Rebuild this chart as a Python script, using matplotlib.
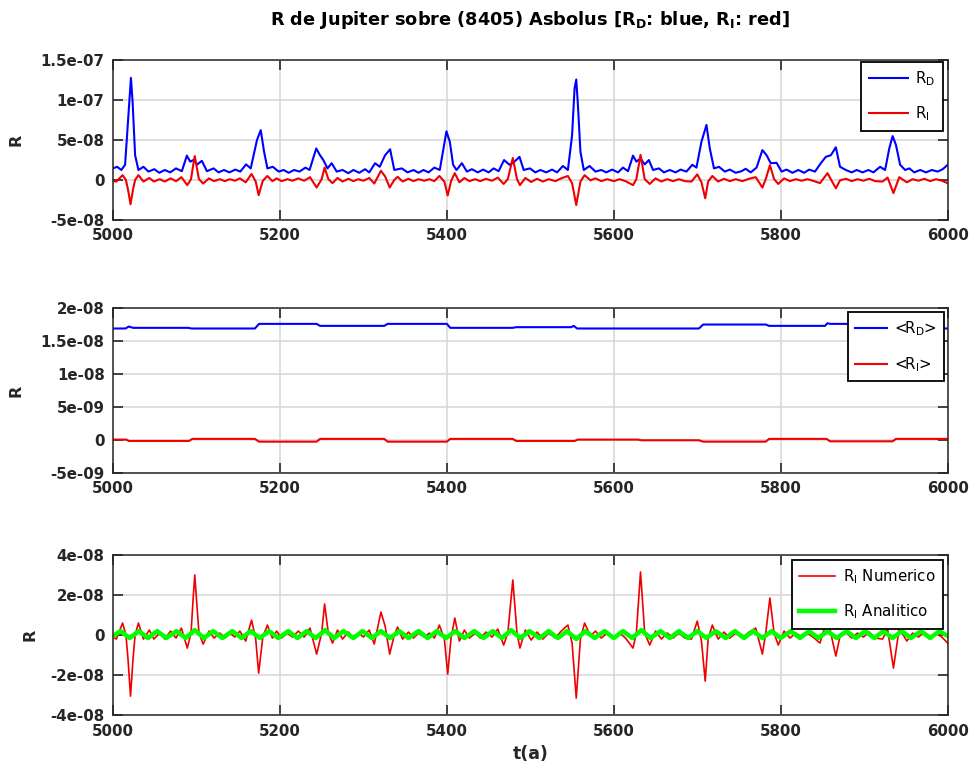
import matplotlib
matplotlib.use("Agg")
import matplotlib.pyplot as plt
import numpy as np

plt.rcParams['font.family'] = ['DejaVu Sans']
plt.rcParams['mathtext.default'] = 'regular'

# ---------------- data (values in units noted) ----------------
# R_D (top panel), units 1e-8
rd_t = [5000, 5005, 5010, 5014.5, 5018.5, 5021.5, 5023.5, 5026.5, 5030.5, 5036.5, 5042.5, 5049.5,
        5055.5, 5062, 5068.5, 5075.5, 5082.5, 5088.5, 5092.5, 5096.5, 5101, 5106.5, 5112.5, 5120.5,
        5126.5, 5133, 5139.5, 5146.5, 5152.5, 5159.5, 5165, 5172.5, 5177, 5181, 5185, 5191.5,
        5198.5, 5204.5, 5210.5, 5217, 5223.5, 5230.5, 5235.5, 5243.5, 5248, 5252, 5257, 5262,
        5268, 5275, 5282, 5288, 5295, 5302, 5307, 5314, 5319.5, 5326, 5332, 5337, 5346, 5353,
        5360, 5366, 5372, 5378, 5385, 5391.5, 5396, 5399.5, 5403.5, 5407.5, 5411.5, 5418, 5424,
        5430, 5437, 5443.5, 5450, 5456, 5462, 5468.5, 5475, 5481, 5487, 5492, 5499.5, 5506,
        5512, 5519, 5526, 5532, 5539, 5545, 5550, 5553, 5555, 5557, 5560, 5564, 5571, 5578,
        5585, 5591, 5598, 5605, 5611, 5617, 5623, 5627, 5632, 5637, 5642, 5647, 5654, 5660,
        5667, 5674, 5680, 5687, 5694, 5699, 5705, 5711, 5715, 5720, 5726, 5733, 5739, 5746,
        5753, 5758, 5764, 5771, 5778, 5783, 5788, 5795, 5801, 5807, 5814, 5821, 5828, 5834,
        5841, 5848, 5854, 5860, 5866, 5871, 5878, 5885, 5891, 5898, 5905, 5911, 5919, 5925,
        5930, 5934, 5938, 5943, 5949, 5954, 5960, 5967, 5974, 5981, 5988, 5994, 6000]
rd_v = [1.45, 1.65, 1.25, 1.9, 8.1, 12.8, 9.8, 3.1, 1.25, 1.65, 1.05, 1.35,
        0.9, 1.25, 0.95, 1.45, 1.1, 3.05, 2.3, 2.5, 1.95, 2.4, 1.1, 1.45,
        0.95, 1.25, 0.95, 1.3, 1.05, 1.95, 1.45, 5.0, 6.25, 3.55, 1.45, 1.65,
        1.05, 1.25, 0.9, 1.25, 1.05, 1.55, 1.25, 3.95, 3.1, 2.5, 1.45, 2.1,
        1.05, 1.25, 0.85, 1.25, 0.9, 1.35, 0.95, 2.1, 1.65, 3.1, 3.85, 1.25, 1.45, 0.95,
        1.25, 0.9, 1.25, 0.95, 1.55, 1.25, 3.95, 6.1, 4.8, 1.9, 1.25, 2.1, 1.05,
        1.35, 0.95, 1.3, 0.95, 1.45, 1.1, 2.5, 1.9, 2.3, 2.9, 1.25, 1.45, 0.95,
        1.25, 0.95, 1.3, 0.95, 1.75, 1.25, 5.6, 11.5, 12.6, 9.4, 3.55, 1.25, 1.75, 1.05,
        1.25, 0.95, 1.3, 0.95, 1.55, 1.1, 3.05, 2.3, 2.7, 1.95, 2.5, 1.25, 1.45, 0.95,
        1.25, 0.95, 1.3, 1.05, 1.9, 1.55, 4.8, 6.9, 3.95, 1.45, 1.65, 1.05, 1.3, 0.9,
        1.1, 1.4, 0.95, 1.55, 3.75, 3.1, 2.1, 2.15, 1.05, 1.3, 0.9, 1.25, 0.9, 1.3,
        1.05, 2.1, 2.9, 3.1, 4.1, 1.65, 1.25, 0.95, 1.25, 0.95, 1.25, 0.95, 1.65, 1.25,
        3.95, 5.5, 4.4, 1.9, 1.25, 1.45, 0.95, 1.25, 0.95, 1.25, 1.05, 1.35, 1.9]

# R_I numerical (top and bottom panels), units 1e-8
ri_t = [5000, 5004, 5011.5, 5015.5, 5018, 5021, 5024, 5026.5, 5030.5, 5036.5, 5043.5, 5049,
        5056, 5062, 5069, 5075.5, 5082, 5089, 5093.5, 5096, 5098, 5100, 5103, 5108, 5115,
        5121, 5128, 5134, 5140, 5146, 5152, 5159, 5166, 5171, 5174.5, 5179.5, 5185, 5191,
        5196, 5202, 5209, 5215, 5222, 5229, 5236, 5244, 5250, 5253.5, 5258, 5263, 5269,
        5275, 5282, 5288, 5294, 5300, 5307, 5313, 5321, 5326, 5331.5, 5337, 5341, 5347,
        5354, 5360, 5366, 5373, 5379, 5385, 5391, 5397, 5401, 5405, 5409.5, 5415, 5421,
        5427, 5434, 5440, 5447, 5454, 5461, 5468, 5473, 5479, 5484, 5487.5, 5494, 5501,
        5508, 5515, 5522, 5530, 5537, 5545, 5550, 5555, 5560, 5565, 5572, 5578, 5585,
        5592, 5600, 5607, 5614, 5623, 5627, 5632, 5637, 5643, 5650, 5657, 5664, 5671,
        5678, 5685, 5693, 5700, 5705, 5709.5, 5713, 5718, 5725, 5732, 5739, 5746, 5754,
        5762, 5770, 5778, 5782, 5787, 5792, 5797, 5804, 5811, 5818, 5825, 5832, 5840,
        5847, 5856, 5861, 5866, 5871, 5878, 5885, 5892, 5899, 5906, 5913, 5922, 5928,
        5935, 5942, 5951, 5958, 5965, 5972, 5979, 5986, 5993, 6000]
ri_v = [-0.1, -0.2, 0.6, 0.0, -1.2, -3.05, -1.2, 0.0, 0.6, -0.2, 0.25, -0.2,
        0.1, -0.2, 0.2, -0.15, 0.35, -0.65, 0.1, 1.8, 3.0, 1.8, 0.1, -0.45, 0.2,
        -0.15, 0.1, -0.15, 0.1, -0.1, 0.2, -0.3, 0.75, -0.2, -1.9, -0.1, 0.5, -0.15,
        0.2, -0.15, 0.1, -0.1, 0.2, -0.1, 0.35, -0.95, 0.1, 1.55, 0.1, -0.4, 0.25,
        -0.2, 0.15, -0.15, 0.1, -0.1, 0.25, -0.45, 1.15, 0.45, -0.95, 0.0, 0.4, -0.2,
        0.15, -0.15, 0.1, -0.1, 0.1, -0.15, 0.5, -0.2, -1.95, -0.15, 0.85, -0.3, 0.25,
        -0.15, 0.1, -0.15, 0.15, -0.1, 0.3, -0.5, 0.1, 2.75, 0.1, -0.65, 0.25, -0.25,
        0.15, -0.2, 0.1, -0.15, 0.2, 0.5, -0.4, -3.15, -0.2, 0.6, -0.05, 0.2, -0.15,
        0.1, -0.15, 0.1, -0.15, -0.65, 0.1, 3.15, 0.1, -0.5, 0.2, -0.2, 0.1, -0.15,
        0.1, -0.15, -0.2, 0.7, -0.3, -2.3, -0.2, 0.5, -0.2, 0.15, -0.15, 0.1, -0.15,
        0.15, 0.35, -0.95, 0.1, 1.85, 0.1, -0.5, 0.2, -0.15, 0.1, -0.1, 0.1, -0.15,
        -0.4, 0.85, -0.1, -1.05, -0.05, 0.15, -0.15, 0.1, -0.1, 0.15, -0.15, -0.2, 0.3,
        -1.65, 0.35, -0.3, 0.1, -0.1, 0.15, -0.15, 0.1, -0.1, -0.4]

# R_I analytical (bottom panel), units 1e-8
ra_t = [5000, 5009, 5020, 5031, 5042, 5053, 5064, 5076, 5087, 5098, 5109, 5120, 5131, 5143,
        5154, 5165, 5176, 5187, 5198, 5210, 5221, 5232, 5243, 5254, 5265, 5276, 5288, 5299,
        5310, 5321, 5332, 5343, 5354, 5366, 5377, 5388, 5399, 5410, 5421, 5433, 5444, 5455,
        5466, 5477, 5488, 5499, 5511, 5522, 5533, 5544, 5555, 5566, 5577, 5589, 5600, 5611,
        5622, 5633, 5644, 5656, 5667, 5678, 5689, 5700, 5711, 5722, 5734, 5745, 5756, 5767,
        5778, 5789, 5800, 5812, 5823, 5834, 5845, 5856, 5867, 5879, 5890, 5901, 5912, 5923,
        5934, 5945, 5956, 5968, 5979, 5990, 6000]
ra_v = [-0.05, 0.2, -0.15, 0.2, -0.15, 0.2, -0.15, 0.2, -0.15, 0.25, -0.15, 0.2, -0.15, 0.2,
        -0.15, 0.2, -0.15, 0.2, -0.15, 0.2, -0.15, 0.2, -0.15, 0.25, -0.15, 0.2, -0.15, 0.2,
        -0.15, 0.2, -0.15, 0.2, -0.15, 0.2, -0.15, 0.2, -0.15, 0.2, -0.15, 0.2, -0.15, 0.2,
        -0.15, 0.25, -0.15, 0.2, -0.15, 0.2, -0.15, 0.2, -0.2, 0.2, -0.15, 0.2, -0.15, 0.2,
        -0.15, 0.25, -0.15, 0.2, -0.15, 0.2, -0.15, 0.2, -0.15, 0.2, -0.15, 0.2, -0.15, 0.2,
        -0.15, 0.2, -0.15, 0.2, -0.15, 0.2, -0.15, 0.2, -0.15, 0.2, -0.15, 0.2, -0.15, 0.2,
        -0.15, 0.2, -0.15, 0.2, -0.15, 0.2, -0.05]

# <R_D> (middle panel), units 1e-8
mrd_t = [5000, 5015, 5019, 5024, 5090, 5094, 5170, 5175, 5244, 5248, 5325, 5329, 5400, 5404,
         5479, 5483, 5549, 5552, 5556, 5702, 5707, 5782, 5786, 5853, 5856, 5859, 5934, 5938, 6000]
mrd_v = [1.69, 1.69, 1.72, 1.70, 1.70, 1.69, 1.69, 1.76, 1.76, 1.73, 1.73, 1.76, 1.76, 1.70,
         1.70, 1.71, 1.71, 1.73, 1.69, 1.69, 1.75, 1.75, 1.73, 1.73, 1.77, 1.76, 1.76, 1.69, 1.69]

# <R_I> (middle panel), units 1e-10
mri_t = [5000, 5016, 5019, 5091, 5095, 5170, 5175, 5244, 5248, 5325, 5329, 5400, 5404, 5479,
         5483, 5553, 5557, 5629, 5633, 5702, 5707, 5782, 5786, 5855, 5859, 5934, 5938, 6000]
mri_v = [0.5, 0.5, -1.6, -1.6, 1.6, 1.6, -2.6, -2.6, 1.6, 1.6, -2.6, -2.6, 1.6, 1.6,
         -1.6, -1.6, 0.5, 0.5, -0.5, -0.5, -2.6, -2.6, 1.6, 1.6, -2.1, -2.1, 1.6, 1.6]

x_ticks = [5000, 5200, 5400, 5600, 5800, 6000]
top_yticks = [-5e-8, 0, 5e-8, 1e-7, 1.5e-7]
top_ylabels = ['-5e-08', '0', '5e-08', '1e-07', '1.5e-07']
mid_yticks = [-5e-9, 0, 5e-9, 1e-8, 1.5e-8, 2e-8]
mid_ylabels = ['-5e-09', '0', '5e-09', '1e-08', '1.5e-08', '2e-08']
bot_yticks = [-4e-8, -2e-8, 0, 2e-8, 4e-8]
bot_ylabels = ['-4e-08', '-2e-08', '0', '2e-08', '4e-08']

title = 'R de Jupiter sobre (8405) Asbolus [R$_D$: blue, R$_I$: red]'

# ---------------- figure ----------------
fig = plt.figure(figsize=(9.74, 7.74), dpi=100)
L, W = 0.116, 0.857
ax1 = fig.add_axes([L, 0.716, W, 0.206])
ax2 = fig.add_axes([L, 0.389, W, 0.213])
ax3 = fig.add_axes([L, 0.076, W, 0.207])

dark = '#262626'

def style(ax, yt, yl, lab_x):
    ax.set_xlim(5000, 6000)
    ax.set_xticks(x_ticks)
    ax.set_xticklabels([str(v) for v in x_ticks])
    ax.set_yticks(yt)
    ax.set_yticklabels(yl)
    ax.set_ylim(yt[0], yt[-1])
    ax.grid(True, color='#d6d6d6', linewidth=1.1)
    ax.set_axisbelow(True)
    ax.tick_params(direction='in', length=7, width=1.2, top=True, right=True,
                   labelsize=10.8, colors=dark, pad=6)
    for lbl in ax.get_xticklabels() + ax.get_yticklabels():
        lbl.set_fontweight('bold')
    for s in ax.spines.values():
        s.set_color(dark)
        s.set_linewidth(1.1)
    ax.set_ylabel('R', fontsize=11.5, fontweight='bold', color=dark)
    ax.yaxis.set_label_coords(lab_x, 0.5)

def leg(ax, anchor, spacing, hl):
    lg = ax.legend(loc='upper right', bbox_to_anchor=anchor, fontsize=10.8, frameon=True,
                   fancybox=False, edgecolor='black', framealpha=1, labelspacing=spacing,
                   handlelength=hl, handletextpad=0.5, borderpad=0.5, borderaxespad=0)
    lg.get_frame().set_linewidth(1.3)
    return lg

rd_t = np.array(rd_t); rd_v = np.array(rd_v) * 1e-8
ri_t = np.array(ri_t); ri_v = np.array(ri_v) * 1e-8
ra_t = np.array(ra_t); ra_v = np.array(ra_v) * 1e-8

ax1.plot(rd_t, rd_v, color='#0000ff', lw=1.5, label='R$_D$')
ax1.plot(ri_t, ri_v, color='#f00000', lw=1.5, label='R$_I$')
style(ax1, top_yticks, top_ylabels, -0.107)
leg(ax1, (0.994, 0.99), 1.1, 2.6)

ax2.plot(mrd_t, np.array(mrd_v) * 1e-8, color='#0000ff', lw=1.5, label='<R$_D$>')
ax2.plot(mri_t, np.array(mri_v) * 1e-10, color='#f00000', lw=1.5, label='<R$_I$>')
style(ax2, mid_yticks, mid_ylabels, -0.107)
leg(ax2, (0.996, 0.975), 1.1, 2.1)

ax3.plot(ri_t, ri_v, color='#f00000', lw=1.2, label='R$_I$ Numerico')
ax3.plot(ra_t, ra_v, color='#00ff00', lw=3.2, label='R$_I$ Analitico')
style(ax3, bot_yticks, bot_ylabels, -0.091)
leg(ax3, (0.994, 0.97), 1.1, 2.4)
ax3.set_xlabel('t(a)', fontsize=12.5, fontweight='bold', color=dark, labelpad=5)

fig.text(0.544, 1 - 20 / 774, title, ha='center', va='center', fontsize=12.8,
         fontweight='bold', color='black')

fig.savefig('out.png', dpi=100)
